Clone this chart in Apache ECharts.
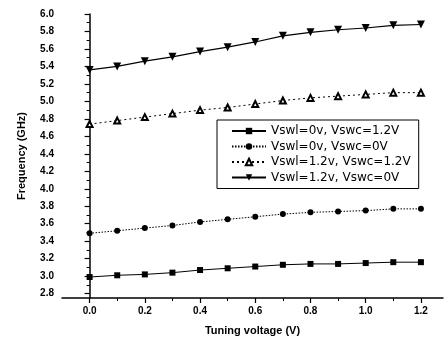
<!DOCTYPE html>
<html><head><meta charset="utf-8">
<script src="https://cdn.jsdelivr.net/npm/echarts@6/dist/echarts.min.js"></script>
<style>html,body{margin:0;padding:0;background:#fff}#c{width:448px;height:345px}</style>
</head><body><div id="c"></div>
<script>
var xValues = [0.0, 0.1, 0.2, 0.3, 0.4, 0.5, 0.6, 0.7, 0.8, 0.9, 1.0, 1.1, 1.2];
var seriesNames = ['Vswl=0v, Vswc=1.2V', 'Vswl=0v, Vswc=0V', 'Vswl=1.2v, Vswc=1.2V', 'Vswl=1.2v, Vswc=0V'];
var sq = [2.99, 3.01, 3.02, 3.04, 3.07, 3.09, 3.11, 3.13, 3.14, 3.14, 3.15, 3.16, 3.16];
var circ = [3.49, 3.52, 3.55, 3.58, 3.62, 3.65, 3.68, 3.71, 3.73, 3.74, 3.75, 3.77, 3.77];
var triUp = [4.74, 4.78, 4.82, 4.86, 4.90, 4.93, 4.97, 5.01, 5.04, 5.06, 5.08, 5.10, 5.10];
var triDown = [5.36, 5.40, 5.46, 5.51, 5.57, 5.62, 5.68, 5.75, 5.79, 5.82, 5.84, 5.87, 5.88];
var yMajor = [2.8, 3.0, 3.2, 3.4, 3.6, 3.8, 4.0, 4.2, 4.4, 4.6, 4.8, 5.0, 5.2, 5.4, 5.6, 5.8, 6.0];
var yMinor = [2.9, 3.1, 3.3, 3.5, 3.7, 3.9, 4.1, 4.3, 4.5, 4.7, 4.9, 5.1, 5.3, 5.5, 5.7, 5.9];
var xMajor = [0.0, 0.2, 0.4, 0.6, 0.8, 1.0, 1.2];
var xMinor = [0.1, 0.3, 0.5, 0.7, 0.9, 1.1];

function pairs(v){ return xValues.map(function(x,i){ return [x, v[i]]; }); }
var ff = '"Liberation Sans", Arial, sans-serif';
var chart = echarts.init(document.getElementById('c'));
var lbl = {fontFamily: ff, fontSize: 10, fontWeight: 'bold', color: '#000'};
chart.setOption({
  animation: false,
  backgroundColor: '#fff',
  grid: {left: 62, right: 5, top: 14, bottom: 47},
  legend: {
    orient: 'vertical', left: 217, top: 120,
    padding: [5, 8, 5, 14], itemGap: 3.5, itemWidth: 34, itemHeight: 8,
    borderColor: '#000', borderWidth: 1,
    textStyle: {fontFamily: '"DejaVu Sans", sans-serif', fontSize: 12, color: '#000'},
    data: seriesNames
  },
  xAxis: [{
    type: 'value', min: -0.1, max: 1.28,
    name: 'Tuning voltage (V)', nameLocation: 'middle', nameGap: 27,
    nameTextStyle: {fontFamily: ff, fontSize: 11, fontWeight: 'bold', color: '#000'},
    axisLine: {lineStyle: {color: '#000', width: 1.5}},
    axisTick: {customValues: xMajor, length: 5, lineStyle: {color: '#000', width: 1.2}},
    axisLabel: Object.assign({customValues: xMajor, margin: 8, formatter: function(v){ return v.toFixed(1); }}, lbl),
    splitLine: {show: false}
  }, {
    type: 'value', min: -0.1, max: 1.28, position: 'bottom',
    axisLine: {show: false},
    axisTick: {customValues: xMinor, length: 3, lineStyle: {color: '#000', width: 1}},
    axisLabel: {show: false}, splitLine: {show: false}
  }],
  yAxis: [{
    type: 'value', min: 2.75, max: 6.0,
    name: 'Frequency (GHz)', nameLocation: 'middle', nameGap: 35,
    nameTextStyle: {fontFamily: ff, fontSize: 11, fontWeight: 'bold', color: '#000'},
    axisLine: {show: true, lineStyle: {color: '#000', width: 1.5}},
    axisTick: {customValues: yMajor, length: 5, lineStyle: {color: '#000', width: 1.2}},
    axisLabel: Object.assign({customValues: yMajor, margin: 8, formatter: function(v){ return v.toFixed(1); }}, lbl),
    splitLine: {show: false}
  }, {
    type: 'value', min: 2.75, max: 6.0, position: 'left',
    axisLine: {show: false},
    axisTick: {customValues: yMinor, length: 3, lineStyle: {color: '#000', width: 1}},
    axisLabel: {show: false}, splitLine: {show: false}
  }],
  series: [
    {name: seriesNames[0], type: 'line', data: pairs(sq), symbol: 'rect', symbolSize: 6,
     itemStyle: {color: '#000'}, lineStyle: {color: '#000', width: 1}},
    {name: seriesNames[1], type: 'line', data: pairs(circ), symbol: 'circle', symbolSize: 6,
     itemStyle: {color: '#000'}, lineStyle: {color: '#000', width: 1, type: [1.5, 1.5]}},
    {name: seriesNames[2], type: 'line', data: pairs(triUp), symbol: 'emptyTriangle', symbolSize: 6,
     itemStyle: {color: '#000', borderWidth: 1}, lineStyle: {color: '#000', width: 1, type: [2, 3]}},
    {name: seriesNames[3], type: 'line', data: pairs(triDown), symbol: 'triangle', symbolRotate: 180, symbolSize: 8,
     itemStyle: {color: '#000'}, lineStyle: {color: '#000', width: 1.2}}
  ]
});
</script></body></html>
